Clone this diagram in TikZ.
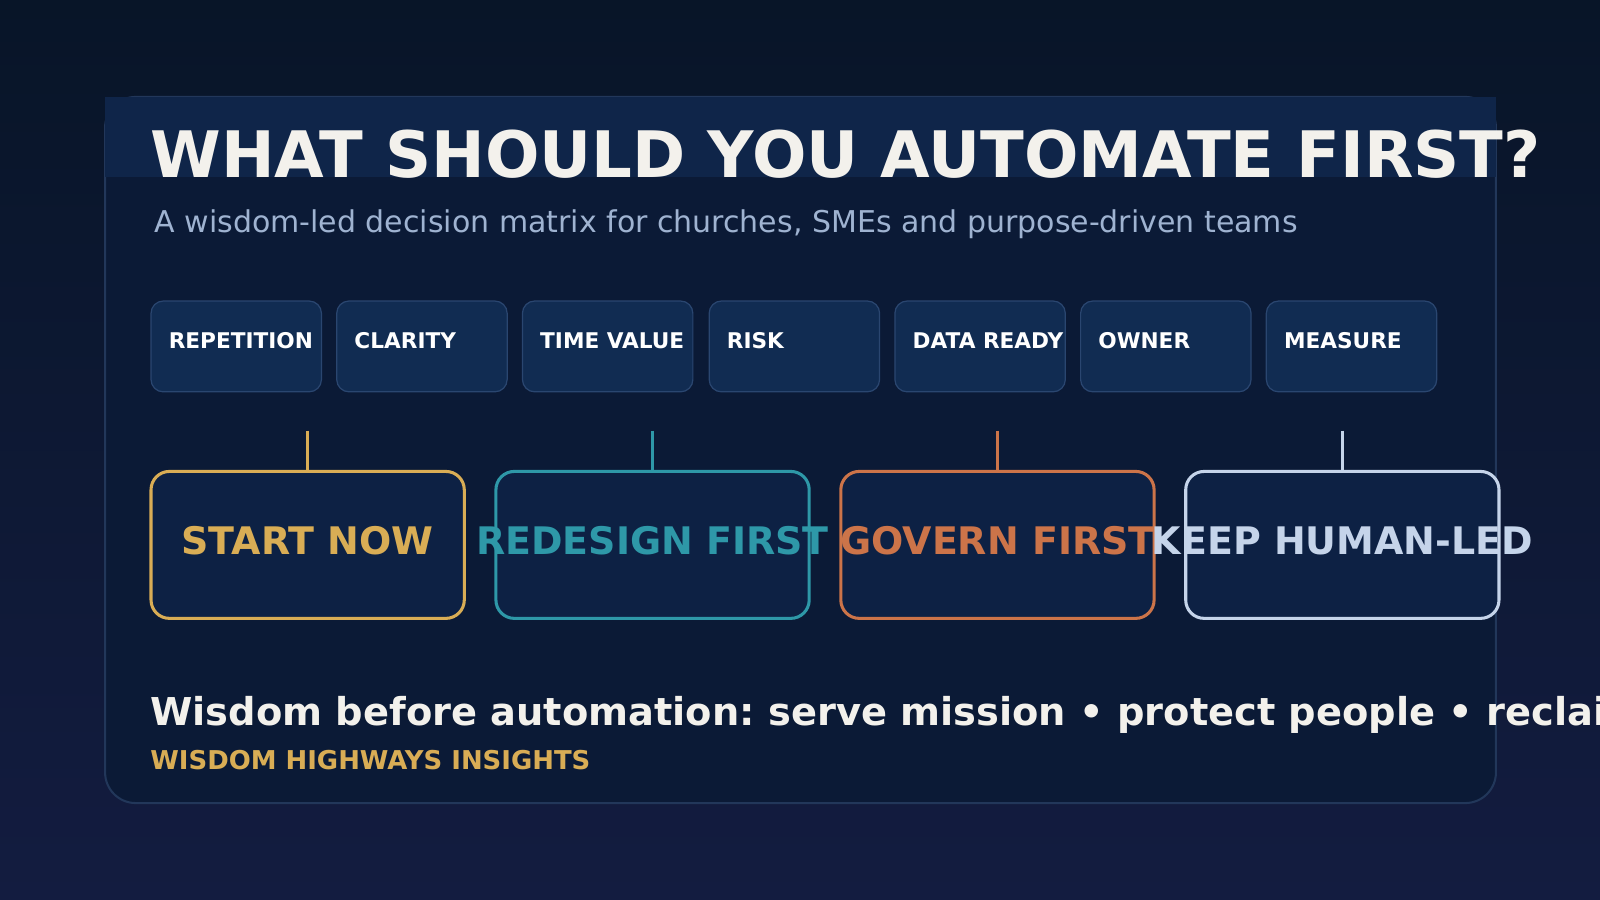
\documentclass[tikz,border=0pt]{standalone}
\usepackage{fontspec}
\setmainfont{DejaVu Sans}
\frenchspacing
\begin{document}
\begin{tikzpicture}[x=0.5pt,y=-0.5pt,
  chip/.style={draw=chipb,fill=chipf,rounded corners=6pt,line width=0.6pt},
  chipt/.style={anchor=base west,text=white,font=\bfseries\fontsize{10.6}{12}\selectfont,inner sep=0},
  box/.style={fill=boxf,rounded corners=9pt,line width=1.5pt},
  boxt/.style={anchor=base,font=\bfseries\fontsize{18.6}{22}\selectfont,inner sep=0},
  stem/.style={line width=1.5pt}]
\definecolor{bgt}{HTML}{081528}\definecolor{bgb}{HTML}{131C40}
\definecolor{panel}{HTML}{0B1A36}\definecolor{panelb}{HTML}{22375A}
\definecolor{band}{HTML}{0F2549}
\definecolor{chipf}{HTML}{112C52}\definecolor{chipb}{HTML}{2A4670}
\definecolor{boxf}{HTML}{0D2144}
\definecolor{cgold}{HTML}{D9AD55}\definecolor{cteal}{HTML}{2E98A8}
\definecolor{corg}{HTML}{CC7449}\definecolor{clight}{HTML}{C5D4EA}
\definecolor{sub}{HTML}{9FB3D1}\definecolor{ttl}{HTML}{F3F1EC}
\useasboundingbox (0,0) rectangle (1568,882);
\shade[top color=bgt,bottom color=bgb] (0,0) rectangle (1568,882);
\draw[panelb,fill=panel,line width=1pt,rounded corners=15pt] (103,95) rectangle (1466,787);
\fill[band] (103,95) rectangle (1466,173);
\node[anchor=base west,inner sep=0,text=ttl,font=\bfseries\fontsize{31.4}{36}\selectfont] (title) at (147,174) {WHAT SHOULD YOU AUTOMATE FIRST?};
\node[anchor=base west,inner sep=0,text=sub,font=\fontsize{14.7}{17}\selectfont] (subt) at (151,228) {A wisdom-led decision matrix for churches, SMEs and purpose-driven teams};
\foreach \x/\t [count=\i] in {148/REPETITION,330/CLARITY,512/TIME VALUE,695/RISK,877/DATA READY,1059/OWNER,1241/MEASURE}{
  \draw[chip] (\x,295) rectangle ++(167,89);
  \node[chipt] (chip\i) at (\x+17,342) {\t};
}
\foreach \x/\c/\t [count=\i] in {148/cgold/START NOW,486/cteal/REDESIGN FIRST,824/corg/GOVERN FIRST,1162/clight/KEEP HUMAN-LED}{
  \draw[box,draw=\c] (\x,462) rectangle ++(307,144);
  \coordinate (top\i) at (\x+153.5,462);
  \coordinate (stem\i) at (\x+153.5,422);
  \draw[stem,\c] (stem\i) -- (top\i);
  \node[boxt,text=\c] (box\i) at (\x+153.5,543) {\t};
}
\node[anchor=base west,inner sep=0,text=ttl,font=\bfseries\fontsize{18.8}{22}\selectfont] (foot) at (147,711) {Wisdom before automation: serve mission • protect people • reclaim};
\node[anchor=base west,inner sep=0,text=cgold,font=\bfseries\fontsize{12.7}{15}\selectfont] (brand) at (147,754) {WISDOM HIGHWAYS INSIGHTS};
\end{tikzpicture}
\end{document}
